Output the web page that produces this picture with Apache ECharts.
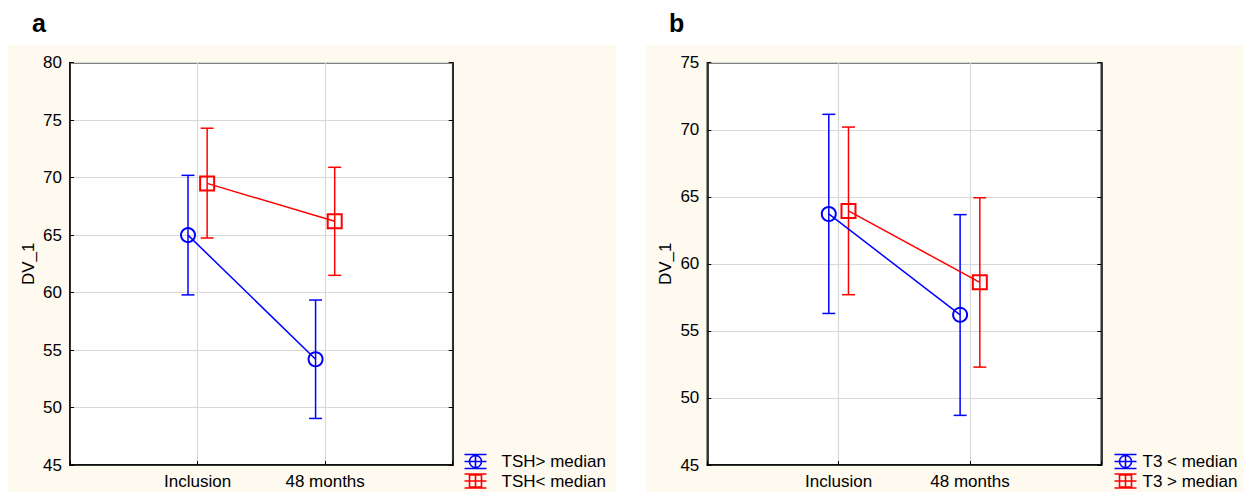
<!DOCTYPE html>
<html>
<head>
<meta charset="utf-8">
<script src="https://cdn.jsdelivr.net/npm/echarts@6/dist/echarts.min.js"></script>
<style>
html,body{margin:0;padding:0;background:#fff;}
#chart{width:1244px;height:492px;}
</style>
</head>
<body>
<div id="chart"></div>
<script>
// ---- data ----
const categories = ['Inclusion', '48 months'];

const panelALetter = 'a';
const panelANames = ['TSH> median', 'TSH< median'];
const aBlueMean = [65.0, 54.2];
const aBlueLow  = [59.8, 49.05];
const aBlueHigh = [70.2, 59.35];
const aRedMean  = [69.5, 66.2];
const aRedLow   = [64.75, 61.5];
const aRedHigh  = [74.3, 70.9];
const aYMin = 45, aYMax = 80, aYStep = 5;

const panelBLetter = 'b';
const panelBNames = ['T3 < median', 'T3 > median'];
const bBlueMean = [63.72, 56.2];
const bBlueLow  = [56.3, 48.7];
const bBlueHigh = [71.15, 63.67];
const bRedMean  = [63.95, 58.62];
const bRedLow   = [57.7, 52.3];
const bRedHigh  = [70.2, 64.93];
const bYMin = 45, bYMax = 75, bYStep = 5;

// ---- style ----
const BLUE = '#0000ff', RED = '#ff0000';
const DODGE = 0.075;
const FONT = "'Liberation Sans', Arial, sans-serif";
const FS = 17;
const CREAM = '#fefaf0';

const ICON_CIRCLE = 'path://M0,0L22,0M0,14L22,14M0,7L22,7M11,0L11,14M17,7A6,6,0,1,1,5,7A6,6,0,1,1,17,7Z';
const ICON_SQUARE = 'path://M0,0L22,0M0,14L22,14M0,7L22,7M11,0L11,14M5,1L17,1L17,13L5,13Z';

function pts(means, off) { return means.map((v, i) => [i + 1 + off, v]); }
function bars(lo, hi, off) { return lo.map((v, i) => [i + 1 + off, v, hi[i]]); }

function errRender(color) {
  return function (params, api) {
    const x = api.value(0);
    const top = api.coord([x, api.value(2)]);
    const bot = api.coord([x, api.value(1)]);
    const h = 6.5;
    const st = { stroke: color, lineWidth: 1.5 };
    return {
      type: 'group',
      children: [
        { type: 'line', shape: { x1: top[0], y1: top[1], x2: bot[0], y2: bot[1] }, style: st },
        { type: 'line', shape: { x1: top[0] - h, y1: top[1], x2: top[0] + h, y2: top[1] }, style: st },
        { type: 'line', shape: { x1: bot[0] - h, y1: bot[1], x2: bot[0] + h, y2: bot[1] }, style: st }
      ]
    };
  };
}

function xAxisFor(gi) {
  return {
    type: 'value', gridIndex: gi, min: 0, max: 3, interval: 1,
    axisLine: { show: true, lineStyle: { color: '#000', width: 1.5 } },
    axisTick: { show: true, inside: true, length: 4, lineStyle: { color: '#000' } },
    axisLabel: {
      color: '#000', fontFamily: FONT, fontSize: FS, margin: 8,
      showMinLabel: true, showMaxLabel: true,
      formatter: v => (v >= 1 && v <= categories.length && Number.isInteger(v)) ? categories[v - 1] : ''
    },
    splitLine: { show: true, lineStyle: { color: '#d9d9d9', width: 1.2 } }
  };
}
function yAxisFor(gi, min, max, step) {
  return {
    type: 'value', gridIndex: gi, min: min, max: max, interval: step, position: 'left',
    name: 'DV_1', nameLocation: 'middle', nameGap: 33, nameRotate: 90,
    nameTextStyle: { color: '#000', fontFamily: FONT, fontSize: FS },
    axisLine: { show: true, lineStyle: { color: '#000', width: 1.5 } },
    axisTick: { show: true, inside: true, length: 4, lineStyle: { color: '#000' } },
    axisLabel: { color: '#000', fontFamily: FONT, fontSize: FS, margin: 8 },
    splitLine: { show: true, lineStyle: { color: '#d9d9d9', width: 1.2 } }
  };
}
function yMirror(gi, min, max, step) {
  return {
    type: 'value', gridIndex: gi, min: min, max: max, interval: step, position: 'right',
    axisLine: { show: true, lineStyle: { color: '#000', width: 1.5 } },
    axisTick: { show: true, inside: true, length: 4, lineStyle: { color: '#000' } },
    axisLabel: { show: false }, splitLine: { show: false }
  };
}

function panelSeries(xi, yi, names, bm, bl, bh, rm, rl, rh) {
  return [
    { type: 'custom', name: names[0] + ' err', xAxisIndex: xi, yAxisIndex: yi, z: 2,
      renderItem: errRender(BLUE), data: bars(bl, bh, -DODGE), silent: true },
    { type: 'custom', name: names[1] + ' err', xAxisIndex: xi, yAxisIndex: yi, z: 2,
      renderItem: errRender(RED), data: bars(rl, rh, DODGE), silent: true },
    { type: 'line', name: names[0], xAxisIndex: xi, yAxisIndex: yi, z: 3,
      data: pts(bm, -DODGE), symbol: 'circle', symbolSize: 14, color: BLUE,
      lineStyle: { color: BLUE, width: 1.5 },
      itemStyle: { color: 'rgba(0,0,0,0)', borderColor: BLUE, borderWidth: 2 } },
    { type: 'line', name: names[1], xAxisIndex: xi, yAxisIndex: yi, z: 3,
      data: pts(rm, DODGE), symbol: 'rect', symbolSize: 14, color: RED,
      lineStyle: { color: RED, width: 1.5 },
      itemStyle: { color: 'rgba(0,0,0,0)', borderColor: RED, borderWidth: 2 } }
  ];
}

function legendItem(name, icon, color, left, top, textPad) {
  return {
    left: left, top: top, itemWidth: 22, itemHeight: 14,
    padding: 0, selectedMode: false,
    textStyle: { color: '#000', fontFamily: FONT, fontSize: FS, padding: [0, 0, 0, textPad] },
    data: [{ name: name, icon: icon, itemStyle: { color: 'none', borderColor: color, borderWidth: 1.6 } }]
  };
}

const chart = echarts.init(document.getElementById('chart'), null, { renderer: 'svg' });
chart.setOption({
  animation: false,
  backgroundColor: '#fff',
  graphic: [
    { type: 'rect', z: -10, shape: { x: 8, y: 45, width: 608, height: 447 }, style: { fill: CREAM } },
    { type: 'rect', z: -10, shape: { x: 646, y: 45, width: 598, height: 447 }, style: { fill: CREAM } },
    { type: 'text', left: 32, top: 10, style: { text: panelALetter, fill: '#000', font: "bold 25px 'Liberation Sans', Arial, sans-serif" } },
    { type: 'text', left: 669, top: 10, style: { text: panelBLetter, fill: '#000', font: "bold 25px 'Liberation Sans', Arial, sans-serif" } }
  ],
  grid: [
    { left: 70, top: 62.7, width: 382.7, height: 402.3, show: true, backgroundColor: '#fff', borderColor: '#000', borderWidth: 1.5 },
    { left: 707.3, top: 62.7, width: 394, height: 402.3, show: true, backgroundColor: '#fff', borderColor: '#000', borderWidth: 1.5 }
  ],
  xAxis: [xAxisFor(0), xAxisFor(1)],
  yAxis: [yAxisFor(0, aYMin, aYMax, aYStep), yMirror(0, aYMin, aYMax, aYStep),
          yAxisFor(1, bYMin, bYMax, bYStep), yMirror(1, bYMin, bYMax, bYStep)],
  legend: [
    legendItem(panelANames[0], ICON_CIRCLE, BLUE, 462, 452, 10),
    legendItem(panelANames[1], ICON_SQUARE, RED, 462, 471.5, 10),
    legendItem(panelBNames[0], ICON_CIRCLE, BLUE, 1112, 452, 1),
    legendItem(panelBNames[1], ICON_SQUARE, RED, 1112, 471.5, 1)
  ],
  series: [].concat(
    panelSeries(0, 0, panelANames, aBlueMean, aBlueLow, aBlueHigh, aRedMean, aRedLow, aRedHigh),
    panelSeries(1, 2, panelBNames, bBlueMean, bBlueLow, bBlueHigh, bRedMean, bRedLow, bRedHigh)
  )
});
</script>
</body>
</html>
